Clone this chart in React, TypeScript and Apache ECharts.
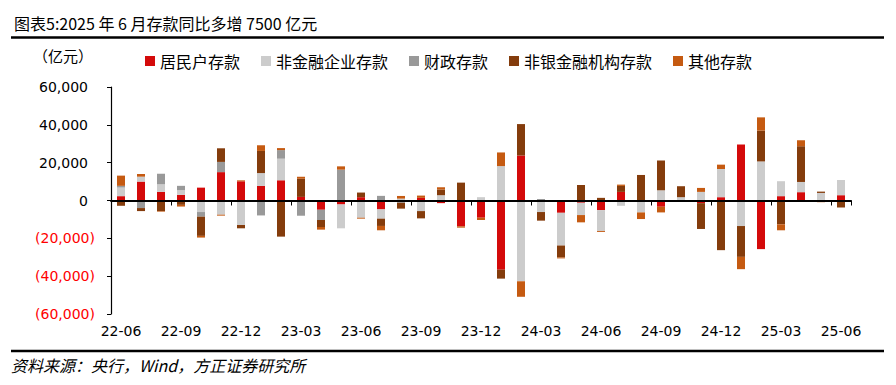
import React, { useEffect, useRef } from "react";
import * as echarts from "echarts";

const categories = [
  "22-06", "22-07", "22-08", "22-09", "22-10", "22-11", "22-12",
  "23-01", "23-02", "23-03", "23-04", "23-05", "23-06", "23-07", "23-08", "23-09", "23-10", "23-11", "23-12",
  "24-01", "24-02", "24-03", "24-04", "24-05", "24-06", "24-07", "24-08", "24-09", "24-10", "24-11", "24-12",
  "25-01", "25-02", "25-03", "25-04", "25-05", "25-06",
];

// 居民户存款
const household = [
  2300, 10000, 4550, 3000, 6800, 15000, 10150,
  7700, 10700, 1900, -4900, -2100, 1750, -4700, 0, 1400, -1400, -13650, -9100,
  -36600, 23800, 0, -6500, -1200, -5100, 4550, 0, -3300, 0, -1400, 1750,
  29600, -25700, 2300, 4400, 0, 2800,
];
// 非金融企业存款
const corporate = [
  4550, 2600, 4000, 2450, -6100, -7500, -12950,
  6800, 11400, 0, 0, -12600, -9100, -4900, 1000, -5600, 2800, 0, 1750,
  18200, -42700, -6100, -17300, -6500, -11000, -2800, -6300, 5400, 1750, 4550, 14900,
  -13500, 20650, 7900, 5400, 4000, 8050,
];
// 财政存款
const fiscal = [
  900, -4000, 5600, 2300, -2450, 5400, 0,
  -7900, 4550, -8050, -5400, 16300, 0, 2450, -1200, 0, 0, 0, 0,
  0, 0, 800, 0, 0, 0, 0, 0, 0, 0, 0, 0,
  0, 0, 0, 0, 0, 0,
];
// 非银金融机构存款
const nonbank = [
  -2800, -1600, -5600, -2300, -10150, 7200, -1750,
  11700, -19100, 9600, -3700, 0, 2450, -3850, -3100, -3850, 3000, 9450, 0,
  -4700, 16600, -4550, -6300, 8200, 1400, 3150, 13500, 15750, 5800, -13650, -26250,
  -16300, 16300, -12600, 18900, 700, -3700,
];
// 其他存款
const others = [
  5400, 1400, -300, -900, -900, -500, 500,
  3000, 1050, 1050, -1400, 1750, -500, -2300, 1400, 1200, 1200, -700, -1200,
  7200, -8200, 0, -500, -3850, -500, 700, -3500, -3000, 0, 2100, 2300,
  -6500, 7000, -3150, 3150, -900, 0,
];

const seriesNames = ["居民户存款", "非金融企业存款", "财政存款", "非银金融机构存款", "其他存款"];
const seriesColors = ["#D40A0A", "#CCCCCC", "#999999", "#843C0C", "#C55A11"];

const titleText = "图表5:2025 年 6 月存款同比多增 7500 亿元";
const unitText = "（亿元）";
const sourceText = "资料来源：央行，Wind，方正证券研究所";

const CJK = "'Noto Sans CJK SC', sans-serif";
const NUM = "'DejaVu Sans', sans-serif";

function fmt(v: number): string {
  return Math.abs(v).toLocaleString("en-US");
}

export default function App() {
  const ref = useRef<HTMLDivElement>(null);
  useEffect(() => {
    if (!ref.current) return;
    const chart = echarts.init(ref.current, undefined, { renderer: "svg" });
    const dataSets = [household, corporate, fiscal, nonbank, others];
    chart.setOption({
      animation: false,
      backgroundColor: "#FFFFFF",
      grid: { left: 111, right: 45, top: 87, bottom: 71, containLabel: false },
      legend: {
        left: 140,
        top: 46,
        icon: "rect",
        itemWidth: 10,
        itemHeight: 10,
        itemGap: 21,
        textStyle: { fontSize: 16, color: "#000", fontFamily: CJK, lineHeight: 20 },
        data: seriesNames,
      },
      xAxis: [
        {
          type: "category",
          data: categories,
          position: "bottom",
          axisLine: { show: false, onZero: false },
          axisTick: { show: false },
          axisLabel: { interval: 2, fontSize: 14, color: "#000", margin: 10, fontFamily: NUM },
        },
        {
          type: "category",
          data: categories,
          position: "bottom",
          z: 10,
          axisLine: { show: true, onZero: true, lineStyle: { color: "#000", width: 1.8 } },
          axisTick: { show: true, interval: 2, length: 5, lineStyle: { color: "#000", width: 1 } },
          axisLabel: { show: false },
        },
      ],
      yAxis: {
        type: "value",
        min: -60000,
        max: 60000,
        interval: 20000,
        axisLine: { show: true, lineStyle: { color: "#000", width: 1.2 } },
        axisTick: { show: true, length: 4, lineStyle: { color: "#000" } },
        splitLine: { show: false },
        axisLabel: {
          margin: 16,
          formatter: (v: number) => (v < 0 ? `{neg|(${fmt(v)})}` : `{pos|${fmt(v)}}`),
          rich: {
            neg: { color: "#FF0000", fontSize: 14, fontFamily: NUM },
            pos: { color: "#000", fontSize: 14, fontFamily: NUM, padding: [0, 7, 0, 0] },
          },
        },
      },
      series: seriesNames.map((name, i) => ({
        name,
        type: "bar",
        stack: "total",
        xAxisIndex: 0,
        barWidth: 8,
        itemStyle: { color: seriesColors[i] },
        data: dataSets[i],
      })),
      graphic: [
        {
          type: "text",
          x: 14,
          y: 23,
          style: { text: titleText, fontSize: 16, fill: "#000", fontFamily: CJK, verticalAlign: "middle" },
        },
        {
          type: "line",
          shape: { x1: 11, y1: 37.5, x2: 884, y2: 37.5 },
          style: { stroke: "#000", lineWidth: 2.5 },
        },
        {
          type: "text",
          x: 33,
          y: 55,
          style: { text: unitText, fontSize: 15, fill: "#000", fontFamily: CJK, verticalAlign: "middle" },
        },
        {
          type: "line",
          shape: { x1: 11, y1: 351, x2: 884, y2: 351 },
          style: { stroke: "#000", lineWidth: 2.5 },
        },
        {
          type: "text",
          x: 11,
          y: 365,
          style: {
            text: sourceText,
            fontSize: 16,
            fill: "#000",
            fontFamily: CJK,
            fontStyle: "italic",
            verticalAlign: "middle",
          },
        },
      ],
    });
    return () => chart.dispose();
  }, []);
  return (
    <div
      ref={ref}
      style={{ position: "fixed", left: 0, top: 0, width: 896, height: 385 }}
    />
  );
}
